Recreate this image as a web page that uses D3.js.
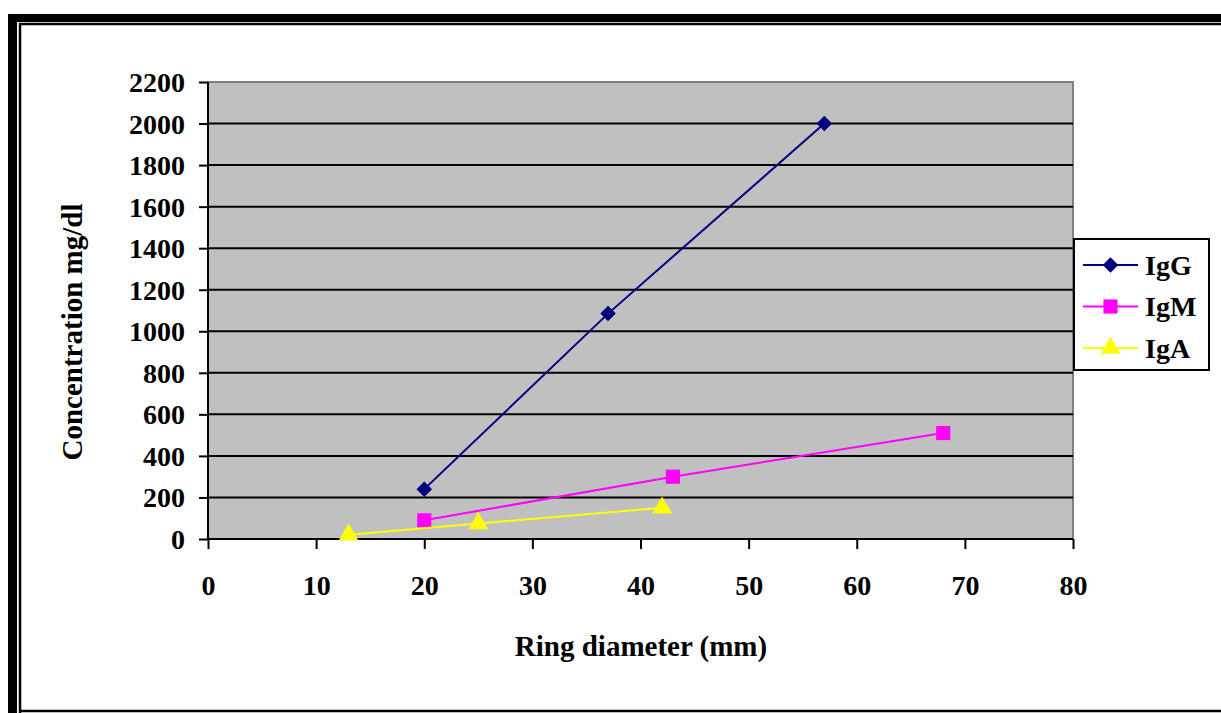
<!DOCTYPE html>
<html>
<head>
<meta charset="utf-8">
<script src="https://cdn.jsdelivr.net/npm/d3@7"></script>
<style>
  body { margin: 0; background: #fff; }
  text { font-family: "Liberation Serif", "Times New Roman", serif; font-weight: bold; }
</style>
</head>
<body>
<script>
// chart values
var seriesNames = ["IgG", "IgM", "IgA"];
var igG = [[20, 240], [37, 1085], [57, 2000]];
var igM = [[20, 90], [43, 300], [68, 510]];
var igA = [[13, 20], [25, 75], [42, 150]];
var xTicks = [0, 10, 20, 30, 40, 50, 60, 70, 80];
var yTicks = [0, 200, 400, 600, 800, 1000, 1200, 1400, 1600, 1800, 2000, 2200];

var svg_Width = 1221, svg_Height = 713;
var plot = { left: 208, top: 82, right: 1073, bottom: 539 };

var svg = d3.select("body").append("svg")
  .attr("width", svg_Width)
  .attr("height", svg_Height);

// frame: thick outer line and thin inner line
svg.append("rect").attr("x", 8).attr("y", 14).attr("width", 1300).attr("height", 800).attr("fill", "#000");
svg.append("rect").attr("x", 17).attr("y", 22).attr("width", 1300).attr("height", 800).attr("fill", "#fff");
svg.append("path").attr("d", "M20,713 V24 H1221").attr("fill", "none").attr("stroke", "#000").attr("stroke-width", 2.5);
svg.append("line").attr("x1", 19).attr("x2", 1221).attr("y1", 711).attr("y2", 711).attr("stroke", "#000").attr("stroke-width", 2.5);

var x = d3.scaleLinear().domain([0, 80]).range([plot.left, plot.right]);
var y = d3.scaleLinear().domain([0, 2200]).range([plot.bottom, plot.top]);

// plot area
svg.append("rect")
  .attr("x", plot.left).attr("y", plot.top)
  .attr("width", plot.right - plot.left).attr("height", plot.bottom - plot.top)
  .attr("fill", "#c0c0c0").attr("stroke", "#808080").attr("stroke-width", 2);

// gridlines
svg.append("g").selectAll("line")
  .data(yTicks.filter(d => d > 0 && d < 2200))
  .enter().append("line")
  .attr("x1", plot.left).attr("x2", plot.right)
  .attr("y1", d => y(d)).attr("y2", d => y(d))
  .attr("stroke", "#000").attr("stroke-width", 2);

// axes
var left_Axis = d3.axisLeft(y).tickValues(yTicks).tickFormat(d3.format("d")).tickSize(9).tickPadding(14);
var bottom_Axis = d3.axisBottom(x).tickValues(xTicks).tickFormat(d3.format("d")).tickSize(10).tickPadding(26);

var gy = svg.append("g").attr("transform", `translate(${plot.left},0)`).call(left_Axis);
var gx = svg.append("g").attr("transform", `translate(0,${plot.bottom})`).call(bottom_Axis);

[gx, gy].forEach(function(g) {
  g.selectAll("path, line").attr("stroke", "#000").attr("stroke-width", 2);
  g.select(".domain").attr("d", g === gx ? `M${plot.left},0H${plot.right}` : `M0,${plot.bottom}V${plot.top}`);
  g.selectAll("text").attr("fill", "#000").style("font-size", "28px")
    .style("font-family", "'Liberation Serif', serif").style("font-weight", "bold");
});
gy.selectAll("text").attr("dy", "0.34em");

// axis titles
svg.append("text")
  .attr("x", 641).attr("y", 656)
  .attr("text-anchor", "middle").style("font-size", "29px")
  .text("Ring diameter (mm)");

svg.append("text")
  .attr("transform", `translate(82, 332) rotate(-90)`)
  .attr("text-anchor", "middle").style("font-size", "29px")
  .text("Concentration mg/dl");

// series
var seriesData = [igG, igM, igA];
var colors = ["#000080", "#ff00ff", "#ffff00"];
var symbols = [d3.symbolSquare, d3.symbolSquare, d3.symbolTriangle];
var sizes = [120, 200, 170];
var rotations = [45, 0, 0];

var line = d3.line().x(d => x(d[0])).y(d => y(d[1]));

seriesData.forEach(function(data, i) {
  svg.append("path").datum(data)
    .attr("d", line)
    .attr("fill", "none").attr("stroke", colors[i]).attr("stroke-width", 2);
  svg.append("g").selectAll("path")
    .data(data).enter().append("path")
    .attr("transform", d => `translate(${x(d[0])},${y(d[1])}) rotate(${rotations[i]})`)
    .attr("d", d3.symbol().type(symbols[i]).size(sizes[i]))
    .attr("fill", colors[i]);
});

// legend
var legend = svg.append("g");
legend.append("rect")
  .attr("x", 1074).attr("y", 239).attr("width", 135).attr("height", 131)
  .attr("fill", "#fff").attr("stroke", "#000").attr("stroke-width", 2);

var legendY = d3.scalePoint().domain(seriesNames).range([265, 348]);
seriesNames.forEach(function(name, i) {
  var ly = legendY(name);
  legend.append("line").attr("x1", 1083).attr("x2", 1138).attr("y1", ly).attr("y2", ly)
    .attr("stroke", colors[i]).attr("stroke-width", 2);
  legend.append("path")
    .attr("transform", `translate(1110.5,${ly}) rotate(${rotations[i]})`)
    .attr("d", d3.symbol().type(symbols[i]).size(sizes[i]))
    .attr("fill", colors[i]);
  legend.append("text").attr("x", 1145).attr("y", ly).attr("dy", "0.35em")
    .style("font-size", "28px").text(name);
});
</script>
</body>
</html>
